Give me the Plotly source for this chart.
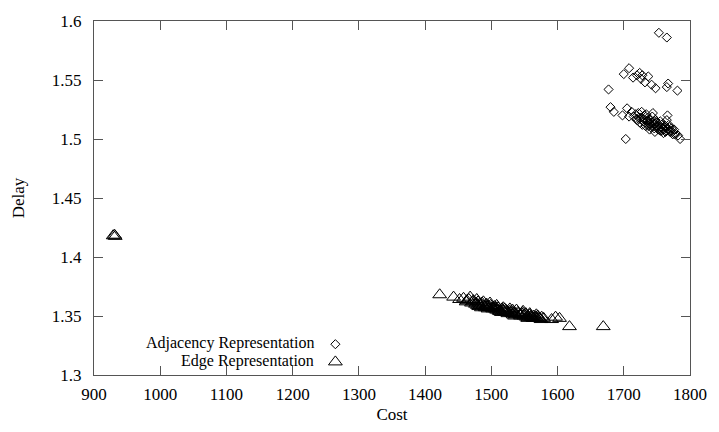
import plotly.graph_objects as go

# Edge Representation (triangles)
edge_cost = [929, 931, 932, 1422, 1443, 1452, 1458, 1462, 1466, 1470, 1473, 1476, 1480, 1483, 1486,
             1490, 1493, 1496, 1499, 1502, 1505, 1508, 1510, 1513, 1516, 1519, 1522, 1525, 1528,
             1531, 1534, 1537, 1540, 1543, 1546, 1549, 1552, 1555, 1558, 1561, 1564, 1567, 1570,
             1573, 1576, 1579, 1468, 1478, 1488, 1498, 1508, 1518, 1528, 1538, 1548, 1558, 1568,
             1485, 1495, 1515, 1535, 1555, 1575, 1591, 1597, 1603, 1618, 1669,
             1472, 1477, 1482, 1487, 1492, 1497, 1501, 1506, 1511, 1517, 1521, 1526, 1530, 1536,
             1541, 1545, 1550, 1556, 1560, 1565, 1571, 1463, 1479, 1491, 1503, 1512, 1524, 1533,
             1544, 1553, 1563, 1572, 1481, 1494, 1507, 1520, 1532, 1547, 1559, 1569]
edge_delay = [1.418, 1.4185, 1.4175, 1.368, 1.366, 1.364, 1.365, 1.362, 1.364, 1.361, 1.363, 1.360,
              1.362, 1.359, 1.361, 1.358, 1.360, 1.357, 1.359, 1.356, 1.358, 1.355, 1.357, 1.354,
              1.356, 1.354, 1.355, 1.352, 1.354, 1.352, 1.353, 1.351, 1.353, 1.351, 1.352, 1.350,
              1.352, 1.350, 1.351, 1.349, 1.350, 1.349, 1.350, 1.348, 1.349, 1.348, 1.366, 1.364,
              1.362, 1.361, 1.359, 1.357, 1.356, 1.355, 1.354, 1.352, 1.351, 1.357, 1.356, 1.353,
              1.350, 1.348, 1.347, 1.347, 1.349, 1.348, 1.341, 1.341,
              1.362, 1.361, 1.360, 1.359, 1.359, 1.358, 1.357, 1.356, 1.355, 1.355, 1.353, 1.353,
              1.353, 1.352, 1.352, 1.351, 1.351, 1.349, 1.350, 1.348, 1.349, 1.363, 1.359, 1.357,
              1.357, 1.354, 1.354, 1.351, 1.350, 1.349, 1.348, 1.348, 1.358, 1.358, 1.357, 1.356,
              1.355, 1.353, 1.349, 1.348]

# Adjacency Representation (diamonds)
adj_cost = [1753, 1765, 1677, 1700, 1708, 1714, 1720, 1724, 1726, 1728, 1732, 1737, 1742, 1748,
            1765, 1767, 1781, 1680, 1685, 1698, 1703, 1705, 1708, 1712, 1715, 1718, 1720, 1722,
            1724, 1726, 1728, 1730, 1731, 1733, 1735, 1736, 1738, 1740, 1741, 1743, 1745, 1746,
            1748, 1749, 1750, 1752, 1753, 1755, 1756, 1758, 1759, 1760, 1762, 1764, 1765, 1766,
            1768, 1770, 1772, 1774, 1776, 1778, 1782, 1785, 1727, 1734, 1744, 1739, 1747,
            1729, 1732, 1737, 1742, 1744, 1747, 1751, 1754, 1757, 1761, 1763, 1767, 1771, 1736,
            1740, 1746, 1750, 1755, 1759, 1763, 1769, 1773, 1777, 1723, 1719]
adj_delay = [1.590, 1.586, 1.542, 1.555, 1.560, 1.552, 1.554, 1.556, 1.551, 1.554, 1.548, 1.553,
             1.546, 1.543, 1.544, 1.547, 1.541, 1.527, 1.523, 1.520, 1.500, 1.526, 1.519, 1.523,
             1.519, 1.521, 1.516, 1.522, 1.514, 1.518, 1.512, 1.517, 1.520, 1.511, 1.515, 1.518,
             1.513, 1.516, 1.510, 1.519, 1.513, 1.509, 1.516, 1.511, 1.514, 1.508, 1.512, 1.515,
             1.510, 1.507, 1.513, 1.505, 1.510, 1.507, 1.516, 1.520, 1.512, 1.506, 1.509, 1.504,
             1.508, 1.505, 1.503, 1.500, 1.523, 1.521, 1.522, 1.508, 1.506,
             1.515, 1.514, 1.511, 1.514, 1.511, 1.513, 1.510, 1.509, 1.512, 1.508, 1.511, 1.508,
             1.507, 1.516, 1.512, 1.515, 1.511, 1.507, 1.509, 1.506, 1.510, 1.506, 1.504, 1.518,
             1.517]

legend_labels = ["Adjacency Representation", "Edge Representation"]
x_ticks = [900, 1000, 1100, 1200, 1300, 1400, 1500, 1600, 1700, 1800]
y_ticks = [1.3, 1.35, 1.4, 1.45, 1.5, 1.55, 1.6]
y_tick_text = ["1.3", "1.35", "1.4", "1.45", "1.5", "1.55", "1.6"]

FONT = "Liberation Serif"
AXC = "#555555"
FS = 17
LFS = 16

fig = go.Figure()
fig.add_trace(go.Scatter(x=adj_cost, y=adj_delay, mode="markers",
                         marker=dict(symbol="diamond-open", size=7, color="black",
                                     line=dict(width=1, color="black")),
                         showlegend=False))
fig.add_trace(go.Scatter(x=edge_cost, y=edge_delay, mode="markers",
                         marker=dict(symbol="triangle-up-open", size=12, color="black",
                                     line=dict(width=1, color="black")),
                         showlegend=False))

# legend keys on an overlay axis in [0,1]
LX = 0.405
LY = [0.087, 0.037]
fig.add_trace(go.Scatter(x=[LX], y=[LY[0]], mode="markers", xaxis="x2", yaxis="y2",
                         marker=dict(symbol="diamond-open", size=7, color="black"),
                         showlegend=False, hoverinfo="skip"))
fig.add_trace(go.Scatter(x=[LX], y=[LY[1]], mode="markers", xaxis="x2", yaxis="y2",
                         marker=dict(symbol="triangle-up-open", size=12, color="black"),
                         showlegend=False, hoverinfo="skip"))

axis_common = dict(showline=True, linecolor=AXC, linewidth=1, mirror="allticks",
                   ticks="inside", ticklen=9, tickcolor=AXC, showgrid=False, zeroline=False,
                   ticklabeloverflow="allow",
                   tickfont=dict(family=FONT, size=FS, color="black"))

fig.update_layout(
    width=719, height=432,
    margin=dict(l=94, r=22, t=13, b=55),
    paper_bgcolor="white", plot_bgcolor="white",
    font=dict(family=FONT, size=FS, color="black"),
    xaxis=dict(range=[900, 1800], tickvals=x_ticks, ticklabelstandoff=4,
               title=dict(text="Cost", font=dict(family=FONT, size=FS), standoff=4),
               **axis_common),
    yaxis=dict(range=[1.3, 1.6], tickvals=y_ticks, ticktext=y_tick_text, ticklabelstandoff=8,
               title=dict(text="Delay", font=dict(family=FONT, size=FS), standoff=22),
               **axis_common),
    xaxis2=dict(overlaying="x", range=[0, 1], visible=False),
    yaxis2=dict(overlaying="y", range=[0, 1], visible=False),
    showlegend=False,
)

# legend text as annotations
for yy, lab in zip(LY, legend_labels):
    fig.add_annotation(x=LX, y=yy, xref="x2", yref="y2", text=lab,
                       showarrow=False, xanchor="right", xshift=-20, yshift=1,
                       borderpad=0,
                       font=dict(family=FONT, size=LFS, color="black"))

fig.write_html("out.html")
